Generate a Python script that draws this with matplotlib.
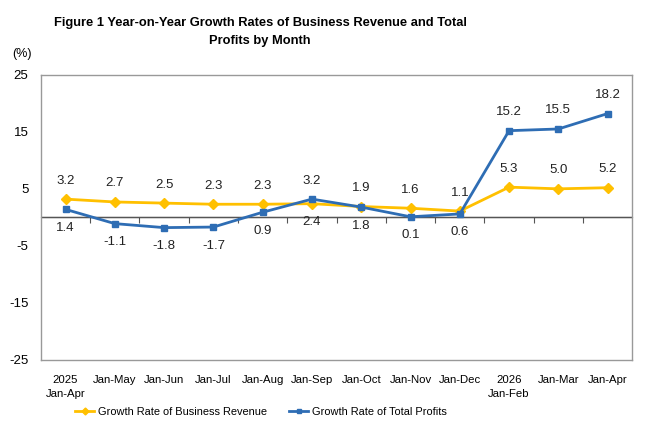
import matplotlib.pyplot as plt
import numpy as np

plt.rcParams['font.family'] = ['Liberation Sans', 'DejaVu Sans']
plt.rcParams['axes.unicode_minus'] = False

# ---- data ----
months = ['2025\nJan-Apr', 'Jan-May', 'Jan-Jun', 'Jan-Jul', 'Jan-Aug', 'Jan-Sep',
          'Jan-Oct', 'Jan-Nov', 'Jan-Dec', '2026\nJan-Feb', 'Jan-Mar', 'Jan-Apr']
revenue = [3.2, 2.7, 2.5, 2.3, 2.3, 2.4, 1.9, 1.6, 1.1, 5.3, 5.0, 5.2]
profits = [1.4, -1.1, -1.8, -1.7, 0.9, 3.2, 1.8, 0.1, 0.6, 15.2, 15.5, 18.2]
# label above (1) or below (-1) the point
rev_side = [1, 1, 1, 1, 1, -1, 1, 1, 1, 1, 1, 1]
prof_side = [-1, -1, -1, -1, -1, 1, -1, -1, -1, 1, 1, 1]

yellow = '#FFC000'
blue = '#2E6DB4'

fig = plt.figure(figsize=(6.6, 4.4), dpi=100)
ax = fig.add_axes([0.062, 0.182, 0.896, 0.648])
x = np.arange(len(months))

ax.plot(x, revenue, color=yellow, lw=2, marker='D', ms=5, label='Growth Rate of Business Revenue')
ax.plot(x, profits, color=blue, lw=2, marker='s', ms=5, label='Growth Rate of Total Profits')

for xi, v, s in zip(x, revenue, rev_side):
    ax.annotate(f'{v:.1f}', (xi, v), xytext=(0, 9 * s), textcoords='offset points',
                ha='center', va='bottom' if s > 0 else 'top', fontsize=9.5, color='#222222')
for xi, v, s in zip(x, profits, prof_side):
    ax.annotate(f'{v:.1f}', (xi, v), xytext=(0, 9 * s), textcoords='offset points',
                ha='center', va='bottom' if s > 0 else 'top', fontsize=9.5, color='#222222')

ax.set_xlim(-0.5, len(months) - 0.5)
ax.set_ylim(-25, 25)
ax.set_yticks([-25, -15, -5, 5, 15, 25])
ax.tick_params(axis='y', labelsize=9.5, length=0, pad=9)
ax.set_xticks(x)
ax.set_xticklabels(months, fontsize=8.2, linespacing=1.5)
ax.tick_params(axis='x', length=0, pad=11)
for sp in ax.spines.values():
    sp.set_color('#999999')
    sp.set_linewidth(1)

# zero line with tick marks between categories
ax.axhline(0, color='#555555', lw=1, zorder=1)
sec = ax.secondary_xaxis(0.5)
sec.set_xticks(np.arange(0.5, len(months) - 1, 1.0))
sec.set_xticklabels([])
sec.tick_params(direction='in', length=4, color='#555555')
sec.spines['bottom'].set_visible(False)

fig.text(0.394, 0.962, 'Figure 1 Year-on-Year Growth Rates of Business Revenue and Total\nProfits by Month',
         ha='center', va='top', fontsize=9.3, fontweight='bold', linespacing=1.75)
fig.text(0.018, 0.877, '(%)', ha='left', va='center', fontsize=9)

fig.legend(loc='center', bbox_to_anchor=(0.395, 0.063), ncol=2, frameon=False, fontsize=7.9,
           handlelength=1.8, handletextpad=0.3, columnspacing=2.0, markerscale=0.7)

fig.savefig('out.png', dpi=100)
